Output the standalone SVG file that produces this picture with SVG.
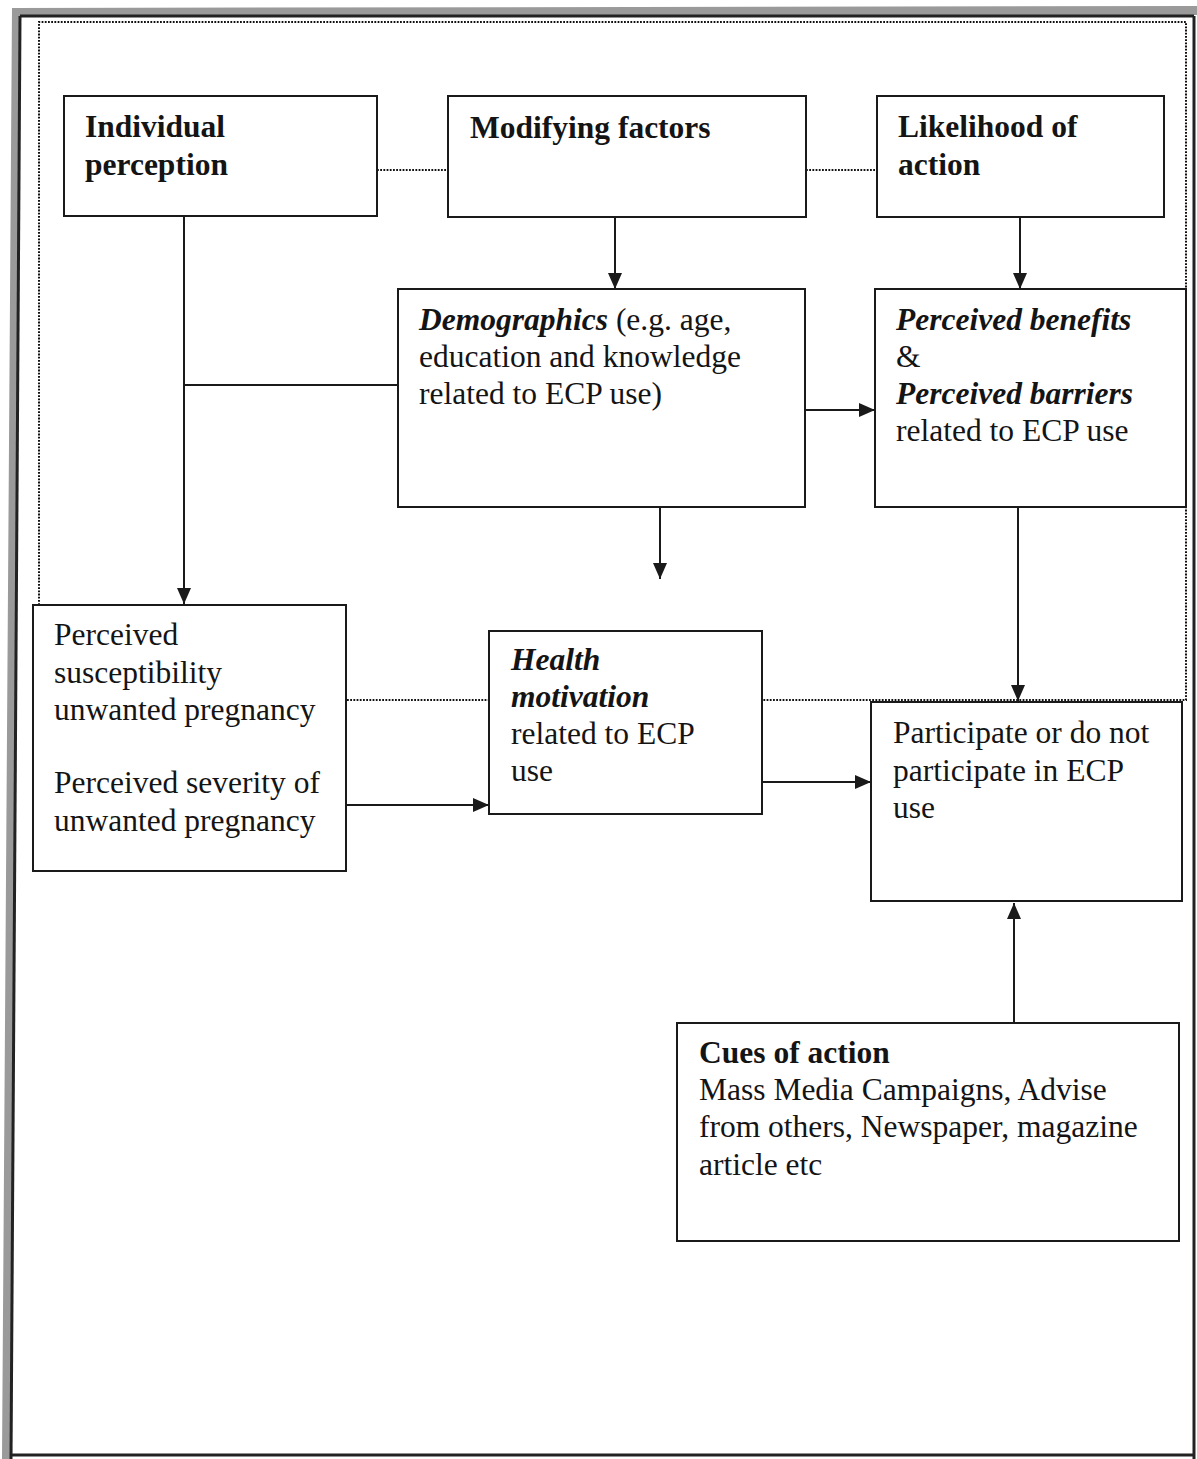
<svg xmlns="http://www.w3.org/2000/svg" width="1197" height="1459" viewBox="0 0 1197 1459">
<style>
.box{fill:none;stroke:#1a1a1a;stroke-width:2}
.ln{fill:none;stroke:#1a1a1a;stroke-width:2}
.dot{fill:none;stroke:#111;stroke-width:2;stroke-dasharray:1.8 1.4}
.t{font-family:"Liberation Serif","Times New Roman",serif;font-size:31.5px;fill:#141414}
.b{font-weight:bold}
.bi{font-weight:bold;font-style:italic}
</style>
<defs>
<marker id="ah" viewBox="0 0 16 14" refX="16" refY="7" markerWidth="16" markerHeight="14" markerUnits="userSpaceOnUse" orient="auto">
<path d="M0,0 L16,7 L0,14 Z" fill="#1a1a1a"/>
</marker>
</defs>
<rect x="0" y="0" width="1197" height="1459" fill="#ffffff"/>
<g id="frame">
<polygon points="12,8 1197,6 1197,15 20,16 12,1459 2,1459" fill="#9a9a9a"/>
<line x1="20" y1="16" x2="1194" y2="16" stroke="#222" stroke-width="3"/>
<line x1="20" y1="16" x2="11" y2="1459" stroke="#222" stroke-width="3"/>
<line x1="1194" y1="16" x2="1194" y2="1459" stroke="#222" stroke-width="3"/>
<line x1="11" y1="1455" x2="1194" y2="1455" stroke="#222" stroke-width="3"/>
<path class="dot" d="M39,605 L39,22 L1186,22 L1186,700 L762,700"/>
<line class="dot" x1="347" y1="700" x2="489" y2="700"/>
<line class="dot" x1="377" y1="170" x2="448" y2="170"/>
<line class="dot" x1="806" y1="170" x2="877" y2="170"/>
</g>
<g id="connectors">
<line class="ln" x1="184" y1="216" x2="184" y2="604" marker-end="url(#ah)"/>
<line class="ln" x1="184" y1="385" x2="398" y2="385"/>
<line class="ln" x1="615" y1="217" x2="615" y2="289" marker-end="url(#ah)"/>
<line class="ln" x1="1020" y1="217" x2="1020" y2="289" marker-end="url(#ah)"/>
<line class="ln" x1="805" y1="410" x2="875" y2="410" marker-end="url(#ah)"/>
<line class="ln" x1="660" y1="507" x2="660" y2="579" marker-end="url(#ah)"/>
<line class="ln" x1="1018" y1="507" x2="1018" y2="701" marker-end="url(#ah)"/>
<line class="ln" x1="346" y1="805" x2="489" y2="805" marker-end="url(#ah)"/>
<line class="ln" x1="762" y1="782" x2="871" y2="782" marker-end="url(#ah)"/>
<line class="ln" x1="1014" y1="1023" x2="1014" y2="903" marker-end="url(#ah)"/>
</g>
<g id="individual-perception">
<rect class="box" x="64" y="96" width="313" height="120"/>
<text class="t b" x="85" y="137">Individual</text>
<text class="t b" x="85" y="175">perception</text>
</g>
<g id="modifying-factors">
<rect class="box" x="448" y="96" width="358" height="121"/>
<text class="t b" x="470" y="138">Modifying factors</text>
</g>
<g id="likelihood-of-action">
<rect class="box" x="877" y="96" width="287" height="121"/>
<text class="t b" x="898" y="137">Likelihood of</text>
<text class="t b" x="898" y="175">action</text>
</g>
<g id="demographics">
<rect class="box" x="398" y="289" width="407" height="218"/>
<text class="t" x="419" y="330"><tspan class="bi">Demographics</tspan> (e.g. age,</text>
<text class="t" x="419" y="367">education and knowledge</text>
<text class="t" x="419" y="404">related to ECP use)</text>
</g>
<g id="perceived-benefits-barriers">
<rect class="box" x="875" y="289" width="311" height="218"/>
<text class="t bi" x="896" y="330">Perceived benefits</text>
<text class="t" x="896" y="367">&amp;</text>
<text class="t bi" x="896" y="404">Perceived barriers</text>
<text class="t" x="896" y="441">related to ECP use</text>
</g>
<g id="perceived-susceptibility-severity">
<rect class="box" x="33" y="605" width="313" height="266"/>
<text class="t" x="54" y="645">Perceived</text>
<text class="t" x="54" y="683">susceptibility</text>
<text class="t" x="54" y="720">unwanted pregnancy</text>
<text class="t" x="54" y="793">Perceived severity of</text>
<text class="t" x="54" y="831">unwanted pregnancy</text>
</g>
<g id="health-motivation">
<rect class="box" x="489" y="631" width="273" height="183"/>
<text class="t bi" x="511" y="670">Health</text>
<text class="t bi" x="511" y="707">motivation</text>
<text class="t" x="511" y="744">related to ECP</text>
<text class="t" x="511" y="781">use</text>
</g>
<g id="participate">
<rect class="box" x="871" y="702" width="311" height="199"/>
<text class="t" x="893" y="743">Participate or do not</text>
<text class="t" x="893" y="781">participate in ECP</text>
<text class="t" x="893" y="818">use</text>
</g>
<g id="cues-of-action">
<rect class="box" x="677" y="1023" width="502" height="218"/>
<text class="t b" x="699" y="1063">Cues of action</text>
<text class="t" x="699" y="1100">Mass Media Campaigns, Advise</text>
<text class="t" x="699" y="1137">from others, Newspaper, magazine</text>
<text class="t" x="699" y="1175">article etc</text>
</g>
</svg>
